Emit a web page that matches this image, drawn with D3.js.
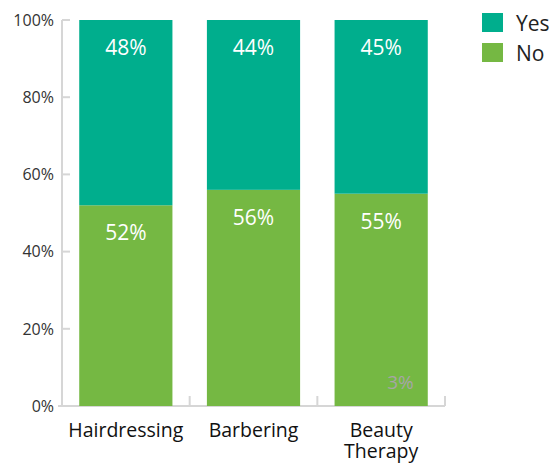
<!DOCTYPE html>
<html>
<head>
<meta charset="utf-8">
<script src="https://cdn.jsdelivr.net/npm/d3@7"></script>
<style>
  html, body { margin: 0; padding: 0; background: #fff; }
  svg { display: block; font-family: "Open Sans", "Noto Sans", sans-serif; }
</style>
</head>
<body>
<svg id="chart" width="555" height="464"></svg>
<script>
// Survey answers by course, as percentages of respondents
const categories = ["Hairdressing", "Barbering", "Beauty Therapy"];
const noValues = [52, 56, 55];
const yesValues = [48, 44, 45];
const seriesNames = ["Yes", "No"];
const yTicks = [0, 20, 40, 60, 80, 100];
// Small extra label shown inside the Beauty Therapy bar
const extraLabels = [{ category: "Beauty Therapy", text: "3%" }];

const colors = { Yes: "#00AE8D", No: "#75B843" };

const svg = d3.select("#chart");
const margin = { left: 62, top: 20 };

const x = d3.scaleBand()
  .domain(categories)
  .range([margin.left, 445])
  .paddingInner(0.27)
  .paddingOuter(0.135);

const y = d3.scaleLinear()
  .domain([0, 100])
  .range([406, margin.top]);

// Stack: No at the bottom, Yes on top
const rows = categories.map((c, i) => ({ category: c, No: noValues[i], Yes: yesValues[i] }));
const stack = d3.stack().keys(["No", "Yes"])(rows);

// Axes
const axisColor = "#d6d6d6";
const yAxis = svg.append("g");
yAxis.append("line")
  .attr("x1", margin.left).attr("x2", margin.left)
  .attr("y1", y(100)).attr("y2", y(0))
  .attr("stroke", axisColor).attr("stroke-width", 2);
yAxis.selectAll("line.tick").data(yTicks).join("line")
  .attr("class", "tick")
  .attr("x1", margin.left).attr("x2", margin.left + 8)
  .attr("y1", d => y(d)).attr("y2", d => y(d))
  .attr("stroke", axisColor).attr("stroke-width", 2);
yAxis.selectAll("text").data(yTicks).join("text")
  .attr("x", 54).attr("y", d => y(d))
  .attr("dy", "0.36em")
  .attr("text-anchor", "end")
  .attr("font-size", 16)
  .attr("fill", "#333")
  .text(d => d + "%");

const xAxis = svg.append("g");
xAxis.append("line")
  .attr("x1", margin.left - 4).attr("x2", 445)
  .attr("y1", y(0)).attr("y2", y(0))
  .attr("stroke", axisColor).attr("stroke-width", 2);
const boundaries = categories.map(c => x(c) + x.bandwidth() + x.step() * x.paddingInner() / 2);
xAxis.selectAll("line.sep").data(boundaries).join("line")
  .attr("class", "sep")
  .attr("x1", d => d).attr("x2", d => d)
  .attr("y1", y(0)).attr("y2", y(0) - 10)
  .attr("stroke", axisColor).attr("stroke-width", 2);

// Bars
const layers = svg.append("g").selectAll("g").data(stack).join("g")
  .attr("fill", d => colors[d.key]);
layers.selectAll("rect").data(d => d).join("rect")
  .attr("x", d => x(d.data.category))
  .attr("width", x.bandwidth())
  .attr("y", d => y(d[1]))
  .attr("height", d => y(d[0]) - y(d[1]));

// Value labels near the top of each segment
layers.selectAll("text").data(d => d).join("text")
  .attr("x", d => x(d.data.category) + x.bandwidth() / 2)
  .attr("y", d => y(d[1]) + 35)
  .attr("text-anchor", "middle")
  .attr("font-size", 21)
  .attr("fill", "#fff")
  .text(d => (d[1] - d[0]) + "%");

svg.append("g").selectAll("text").data(extraLabels).join("text")
  .attr("x", d => x(d.category) + x.bandwidth() - 14)
  .attr("y", 389)
  .attr("text-anchor", "end")
  .attr("font-size", 19)
  .attr("fill", "#a6a6a6")
  .text(d => d.text);

// Category labels, one text per line, wrapped where needed
const lineData = categories.flatMap(c => {
  const words = c === "Beauty Therapy" ? ["Beauty", "Therapy"] : [c];
  return words.map((w, i) => ({ category: c, text: w, line: i }));
});
svg.append("g").selectAll("text").data(lineData).join("text")
  .attr("x", d => x(d.category) + x.bandwidth() / 2)
  .attr("y", d => 437 + d.line * 21)
  .attr("text-anchor", "middle")
  .attr("font-size", 19.5)
  .attr("fill", "#111")
  .text(d => d.text);

// Legend
const legend = svg.append("g").selectAll("g").data(seriesNames).join("g")
  .attr("transform", (d, i) => `translate(482, ${13 + i * 30})`);
legend.append("rect")
  .attr("width", 21).attr("height", 19)
  .attr("fill", d => colors[d]);
legend.append("text")
  .attr("x", 34).attr("y", 10)
  .attr("dy", "0.36em")
  .attr("font-size", 21)
  .attr("fill", "#222")
  .text(d => d);
</script>
</body>
</html>
